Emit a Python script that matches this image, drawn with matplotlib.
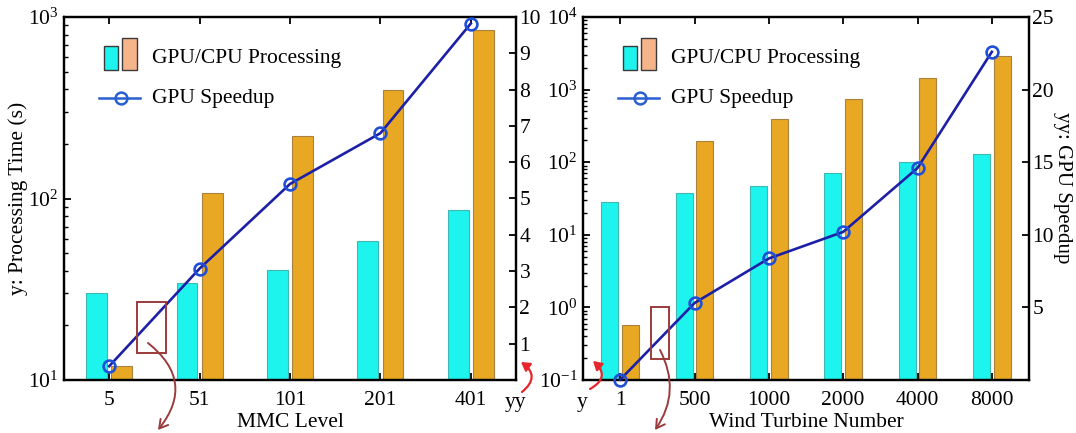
import matplotlib
matplotlib.use('Agg')
import matplotlib.pyplot as plt
from matplotlib.patches import Rectangle, FancyArrowPatch
from matplotlib.lines import Line2D
from matplotlib.ticker import NullFormatter
import numpy as np

plt.rcParams['font.family'] = ['Liberation Serif', 'DejaVu Serif']
plt.rcParams['mathtext.fontset'] = 'custom'
plt.rcParams['mathtext.rm'] = 'Liberation Serif'
plt.rcParams['mathtext.it'] = 'Liberation Serif:italic'
plt.rcParams['mathtext.bf'] = 'Liberation Serif:bold'
plt.rcParams['font.size'] = 15.5

# ---- MMC benchmark ----
mmc_levels = ['5', '51', '101', '201', '401']
mmc_gpu_time = [30, 34.4, 40.6, 58.5, 86.5]
mmc_cpu_time = [12, 107, 220, 396, 849]
mmc_speedup = [0.38, 3.07, 5.4, 6.8, 9.82]

# ---- wind farm benchmark ----
wt_counts = ['1', '500', '1000', '2000', '4000', '8000']
wt_gpu_time = [28.1, 38.2, 47.7, 72, 101, 128]
wt_cpu_time = [0.57, 198, 398, 748, 1466, 2912]
wt_speedup = [0.02, 5.3, 8.37, 10.2, 14.6, 22.6]

CYAN = '#1ef4ee'
CYAN_EDGE = '#3fb8b4'
ORANGE = '#e8a823'
ORANGE_EDGE = '#a9823f'
PEACH = '#f6b48a'
LINE = '#1d1fa6'
MARK = '#1f4fd6'
BROWN = '#9c3b3b'
RED = '#e6262b'

W, H = 1076, 433
fig = plt.figure(figsize=(W / 100, H / 100), dpi=100)


def px_box(left, top, right, bottom):
    return [left / W, 1 - bottom / H, (right - left) / W, (bottom - top) / H]


def fpt(x, y):
    """Figure-fraction point from pixel coordinates measured from the top-left."""
    return (x / W, 1 - y / H)


WIDTH = 0.23
OFF = 0.14


def panel(ax, cats, gpu, cpu, speed, ylim, sp_lim, sp_ticks, xlabel):
    x = np.arange(len(cats))
    ax.set_yscale('log')
    ax.bar(x - OFF, gpu, WIDTH, color=CYAN, edgecolor=CYAN_EDGE, linewidth=0.8,
           bottom=ylim[0] * 1e-3)
    ax.bar(x + OFF, cpu, WIDTH, color=ORANGE, edgecolor=ORANGE_EDGE, linewidth=0.8,
           bottom=ylim[0] * 1e-3)
    ax.set_ylim(*ylim)
    ax.set_xlim(-0.5, len(cats) - 0.5)
    ax.set_xticks(x)
    ax.set_xticklabels(cats)
    ax.yaxis.set_minor_formatter(NullFormatter())
    ax.tick_params(which='both', direction='in', top=True, right=False)
    ax.tick_params(which='major', length=5, width=1.3)
    ax.tick_params(which='minor', length=3, width=1.0)
    ax.tick_params(axis='x', which='minor', top=False, bottom=False)
    ax.tick_params(axis='x', pad=8)
    ax.tick_params(axis='y', pad=4)
    ax.set_xlabel(xlabel, labelpad=2)

    axr = ax.twinx()
    axr.plot(x, speed, color=LINE, lw=1.9, marker='o', ms=8.5, mfc='none',
             mec=MARK, mew=1.9, clip_on=False, zorder=5)
    axr.set_ylim(*sp_lim)
    axr.set_yticks(sp_ticks)
    axr.tick_params(direction='in', length=5, width=1.3, pad=2.5)
    for a in (ax, axr):
        for s in a.spines.values():
            s.set_linewidth(1.6)
    return axr


def draw_key(ax):
    pos = ax.get_position()
    x0, y0 = pos.x0 * W, (1 - pos.y1) * H

    def p(dx, dy):
        return fpt(x0 + dx, y0 + dy)

    for (l, t, r, b, c) in [(40, 29, 54, 53, CYAN), (58, 21, 73, 53, PEACH)]:
        fig.add_artist(Rectangle(p(l, b), (r - l) / W, (b - t) / H, transform=fig.transFigure,
                                 facecolor=c, edgecolor='#3a3a3a', linewidth=1.0))
    fig.text(*p(88, 46.5), 'GPU/CPU Processing', va='baseline', ha='left')
    (ax_, ay_), (bx_, by_) = p(35, 80.5), p(76, 80.5)
    fig.add_artist(Line2D([ax_, bx_], [ay_, by_], transform=fig.transFigure,
                          color='#2a5fcf', lw=1.8))
    mx, my = p(57, 80.5)
    fig.add_artist(Line2D([mx], [my], transform=fig.transFigure, marker='o', ms=8.5,
                          mfc='none', mec='#2a5fcf', mew=1.8))
    fig.text(*p(88, 86.5), 'GPU Speedup', va='baseline', ha='left')


ax1 = fig.add_axes(px_box(64, 17, 516, 380))
ax2 = fig.add_axes(px_box(583, 17, 1029, 380))

ax1r = panel(ax1, mmc_levels, mmc_gpu_time, mmc_cpu_time, mmc_speedup,
             (10, 1000), (0, 10), range(1, 11), 'MMC Level')
ax2r = panel(ax2, wt_counts, wt_gpu_time, wt_cpu_time, wt_speedup,
             (0.1, 10000), (0, 25), range(5, 26, 5), 'Wind Turbine Number')

ax1.set_ylabel('y: Processing Time (s)')
ax1.yaxis.set_label_coords(-0.08, 0.5)
ax2r.set_ylabel('yy: GPU Speedup', rotation=270, va='bottom', fontsize=15)
ax2r.yaxis.set_label_coords(1.054, 0.53)

draw_key(ax1)
draw_key(ax2)

# axis hints near the bottom corners
fig.text(*fpt(515, 402), 'yy', ha='center', va='center')
fig.text(*fpt(582, 402), 'y', ha='center', va='center')

# highlighted regions with pointers running off the bottom
for (l, t, r, b) in [(137, 302, 166, 353), (651, 307, 669, 359)]:
    fig.add_artist(Rectangle(fpt(l, b), (r - l) / W, (b - t) / H, transform=fig.transFigure,
                             facecolor='none', edgecolor=BROWN, linewidth=1.4))

for (start, end, rad) in [((148, 343), (158, 430), -0.5), ((660, 350), (655, 430), -0.3)]:
    fig.add_artist(FancyArrowPatch(fpt(*start), fpt(*end), transform=fig.transFigure,
                                   connectionstyle=f'arc3,rad={rad}',
                                   arrowstyle='->,head_length=6,head_width=3.5',
                                   color=BROWN, lw=1.4, shrinkA=0, shrinkB=0))

for (start, end, rad) in [((522, 392), (521, 362), 0.65), ((590, 389), (593, 361), 0.7)]:
    fig.add_artist(FancyArrowPatch(fpt(*start), fpt(*end), transform=fig.transFigure,
                                   connectionstyle=f'arc3,rad={rad}',
                                   arrowstyle='-|>,head_length=5,head_width=3',
                                   color=RED, lw=1.6, shrinkA=0, shrinkB=0))

fig.savefig('out.png', dpi=100, facecolor='white')
